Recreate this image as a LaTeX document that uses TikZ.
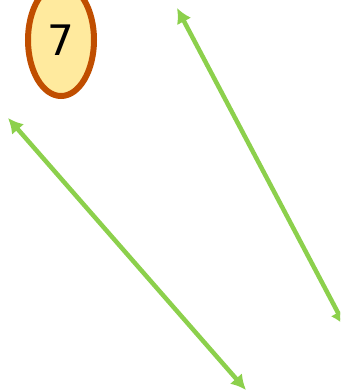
\documentclass[tikz,border=0pt]{standalone}
\usepackage{fontspec}
\setmainfont{DejaVu Sans}
\usetikzlibrary{shapes.geometric, arrows.meta}

\definecolor{linkgreen}{HTML}{8CD04C}
\definecolor{nodeborder}{HTML}{C04E00}
\definecolor{nodefill}{HTML}{FFEA9E}

\begin{document}
\begin{tikzpicture}[x=1pt, y=-1pt,
  numnode/.style={ellipse, draw=nodeborder, fill=nodefill, line width=6pt,
    minimum width=66pt, minimum height=112pt, inner sep=0pt,
    font=\fontsize{42}{50}\selectfont},
  link/.style={{Latex[length=15pt,width=16pt]}-{Latex[length=15pt,width=16pt]},
    line width=4.5pt, linkgreen}]

  % --- 1. frame ---
  \useasboundingbox (0,0) rectangle (340,390);
  \clip (0,0) rectangle (340,390);

  % --- 2. node ---
  \node[numnode] (n7) at (61,40) {7};

  % --- 3. end points ---
  \coordinate (a1) at (8,118);
  \coordinate (a2) at (246,390);
  \coordinate (b1) at (177,8);
  \coordinate (b2) at (345,326);

  % --- 4. links ---
  \draw[link] (a1) -- (a2);
  \draw[link] (b1) -- (b2);

\end{tikzpicture}
\end{document}
